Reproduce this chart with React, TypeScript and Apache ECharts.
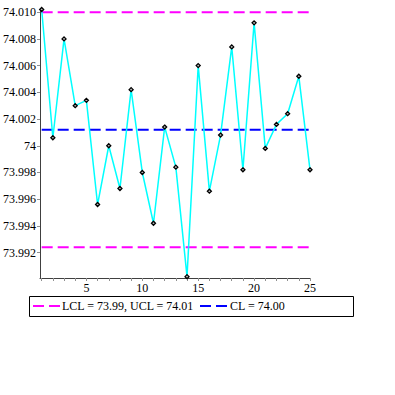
import React, { useEffect, useRef } from "react";
import * as echarts from "echarts";

const samples = [1, 2, 3, 4, 5, 6, 7, 8, 9, 10, 11, 12, 13, 14, 15, 16, 17, 18, 19, 20, 21, 22, 23, 24, 25];
const means = [
  74.0102, 74.0006, 74.008, 74.003, 74.0034, 73.9956, 74.0, 73.9968, 74.0042, 73.998,
  73.9942, 74.0014, 73.9984, 73.9902, 74.006, 73.9966, 74.0008, 74.0074, 73.9982, 74.0092,
  73.9998, 74.0016, 74.0024, 74.0052, 73.9982,
];
const CL = 74.0012;
const UCL = 74.01;
const LCL = 73.9924;
const yTicks = [73.992, 73.994, 73.996, 73.998, 74.0, 74.002, 74.004, 74.006, 74.008, 74.01];
const xLabels = [5, 10, 15, 20, 25];
const legendLimits = "LCL = 73.99, UCL = 74.01";
const legendCenter = "CL = 74.00";

const FONT = "'Liberation Serif', 'DejaVu Serif', serif";

export default function App() {
  const ref = useRef<HTMLDivElement>(null);
  useEffect(() => {
    const chart = echarts.init(ref.current!, null, { renderer: "svg" });
    const first = samples[0];
    const last = samples[samples.length - 1];
    chart.setOption({
      animation: false,
      backgroundColor: "#fff",
      grid: { left: 37.5, right: 85, top: 9.5, bottom: 117, containLabel: false },
      xAxis: {
        type: "value",
        min: 0.85,
        max: 25,
        splitLine: { show: false },
        axisLine: { lineStyle: { color: "#404040", width: 1 } },
        axisTick: { show: true, length: 3, customValues: samples, lineStyle: { color: "#909090" } },
        axisLabel: {
          customValues: xLabels,
          color: "#000",
          fontFamily: FONT,
          fontSize: 12,
          margin: 4,
        },
      },
      yAxis: {
        type: "value",
        min: 73.9901,
        max: 74.0102,
        splitLine: { show: false },
        axisLine: { show: true, lineStyle: { color: "#404040", width: 1 } },
        axisTick: { show: true, length: 3, customValues: yTicks, lineStyle: { color: "#909090" } },
        axisLabel: {
          customValues: yTicks,
          color: "#000",
          fontFamily: FONT,
          fontSize: 12,
          margin: 4,
          formatter: (v: number) => (Math.abs(v - 74) < 1e-9 ? "74" : v.toFixed(3)),
        },
      },
      series: [
        {
          type: "line",
          name: "UCL",
          data: [[first, UCL], [last, UCL]],
          symbol: "none",
          lineStyle: { color: "#ff00ff", width: 2, type: [11, 5] },
          z: 2,
        },
        {
          type: "line",
          name: "LCL",
          data: [[first, LCL], [last, LCL]],
          symbol: "none",
          lineStyle: { color: "#ff00ff", width: 2, type: [11, 5] },
          z: 2,
        },
        {
          type: "line",
          name: "CL",
          data: [[first, CL], [last, CL]],
          symbol: "none",
          lineStyle: { color: "#0000ff", width: 2, type: [11, 5] },
          z: 2,
        },
        {
          type: "line",
          name: "means",
          data: samples.map((s, i) => [s, means[i]]),
          symbol: "diamond",
          symbolSize: 4,
          showSymbol: true,
          itemStyle: { color: "#bbb", borderColor: "#000", borderWidth: 1.3 },
          lineStyle: { color: "#00ffff", width: 1.5 },
          z: 3,
        },
      ],
      graphic: [
        {
          type: "rect",
          shape: { x: 29.5, y: 296.5, width: 324, height: 20 },
          style: { fill: "#fff", stroke: "#000", lineWidth: 1 },
        },
        {
          type: "line",
          shape: { x1: 33, y1: 306, x2: 60, y2: 306 },
          style: { stroke: "#ff00ff", lineWidth: 2, lineDash: [11, 5] },
        },
        {
          type: "text",
          x: 62,
          y: 306,
          style: {
            text: legendLimits,
            fill: "#000",
            font: `12px ${FONT}`,
            verticalAlign: "middle",
            align: "left",
          },
        },
        {
          type: "line",
          shape: { x1: 200, y1: 306, x2: 227, y2: 306 },
          style: { stroke: "#0000ff", lineWidth: 2, lineDash: [11, 5] },
        },
        {
          type: "text",
          x: 230,
          y: 306,
          style: {
            text: legendCenter,
            fill: "#000",
            font: `12px ${FONT}`,
            verticalAlign: "middle",
            align: "left",
          },
        },
      ],
    });
    return () => chart.dispose();
  }, []);
  return (
    <div
      ref={ref}
      style={{ position: "absolute", left: 0, top: 0, width: 395, height: 395 }}
    />
  );
}
